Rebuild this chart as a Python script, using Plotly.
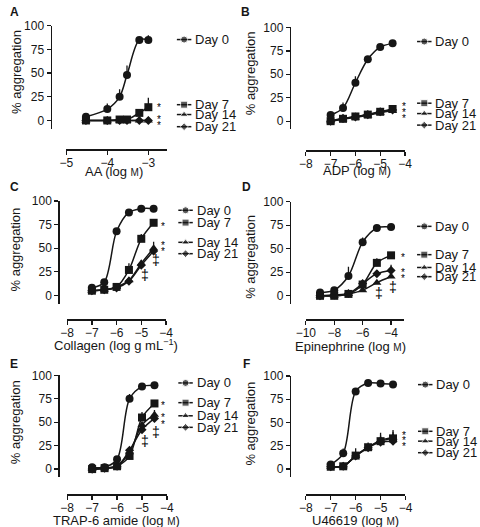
import plotly.graph_objects as go

# ------------------------------------------------------------------ data
DAYS = ["Day 0", "Day 7", "Day 14", "Day 21"]

# A  arachidonic acid
A_x = [-4.52, -4.0, -3.7, -3.52, -3.22, -3.0]
A_d0 = [4, 12, 25, 48, 85, 85]
A_d7 = [0, 0, 1, 1, 8, 14]
A_d14 = [0, 0, 0, 0, 0, 0]
A_d21 = [0, 0, 0, 0, 0, 0]
A_e0 = [2, 6, 8, 10, 2, 5]
A_e7 = [1, 0, 0, 0, 3, 10]
A_e14 = [0, 0, 0, 0, 0, 0]
A_e21 = [0, 0, 0, 0, 0, 0]

# B  ADP
B_x = [-7, -6.5, -6, -5.5, -5, -4.5]
B_d0 = [6.5, 14, 41, 66, 79, 83]
B_d7 = [0, 2.5, 5, 7, 10, 13]
B_d14 = [0, 2, 4, 6, 9, 11]
B_d21 = [0, 3, 4.5, 7, 10, 12]
B_e0 = [2, 6, 7, 2, 2, 1]
B_e7 = [1, 1, 1, 1, 1, 1]
B_e14 = [1, 1, 1, 1, 1, 1]
B_e21 = [1, 1, 1, 1, 1, 1]

# C  collagen
C_x = [-7, -6.5, -6, -5.5, -5, -4.5]
C_d0 = [8, 14, 68, 88, 92, 92]
C_d7 = [5, 6, 9, 27, 60, 77]
C_d14 = [5, 6, 9, 16, 34, 50]
C_d21 = [5, 6, 8, 15, 32, 47]
C_e0 = [1, 1, 2, 2, 1, 1]
C_e7 = [1, 1, 1, 7, 5, 2]
C_e14 = [1, 1, 1, 2, 3, 7]
C_e21 = [1, 1, 1, 2, 2, 3]

# D  epinephrine
D_x = [-9, -8, -7, -6, -5, -4]
D_d0 = [3.5, 6, 21, 57, 72, 73]
D_d7 = [0, 0, 2, 12, 35, 43]
D_d14 = [0, 0, 2, 6, 14, 20.5]
D_d21 = [0, 1, 2.5, 13, 23.5, 27]
D_e0 = [1, 3, 10, 5, 2, 2]
D_e7 = [0, 0, 1, 3, 5, 3]
D_e14 = [0, 0, 1, 1, 2, 3]
D_e21 = [0, 0, 1, 2, 4, 6]

# E  TRAP-6 amide
E_x = [-7, -6.5, -6, -5.5, -5, -4.5]
E_d0 = [2, 2, 10.5, 75, 88, 89.5]
E_d7 = [0, 1, 3, 14, 55, 70]
E_d14 = [0, 1, 3, 18, 47, 58]
E_d21 = [0, 1, 3, 20, 42, 54]
E_e0 = [1, 1, 2, 5, 1, 1]
E_e7 = [0, 0, 1, 2, 6, 2]
E_e14 = [0, 0, 1, 2, 3, 5]
E_e21 = [0, 0, 1, 2, 2, 3]

# F  U46619
F_x = [-7, -6.5, -6, -5.5, -5, -4.5]
F_d0 = [5, 17, 83.5, 92.5, 92, 91]
F_d7 = [2.5, 3, 14.5, 23.5, 30, 33]
F_d14 = [2.5, 3, 14, 23, 31, 34]
F_d21 = [2.5, 3, 14, 23, 29, 30]
F_e0 = [2, 5, 2, 1, 1, 1]
F_e7 = [1, 1, 8, 5, 9, 9]
F_e14 = [1, 1, 3, 3, 5, 6]
F_e21 = [1, 1, 3, 3, 4, 5]

A_ticks = [-5, -4, -3]
B_ticks = [-8, -7, -6, -5, -4]
C_ticks = [-8, -7, -6, -5, -4]
D_ticks = [-10, -8, -6, -4]
E_ticks = [-8, -7, -6, -5, -4]
F_ticks = [-8, -7, -6, -5, -4]
Y_ticks = [0, 25, 50, 75, 100]

SM = "<span style='font-size:10px'>M</span>"
A_title = "AA (log " + SM + ")"
B_title = "ADP (log " + SM + ")"
C_title = "Collagen (log g mL<sup>\u22121</sup>)"
D_title = "Epinephrine (log " + SM + ")"
E_title = "TRAP-6 amide (log " + SM + ")"
F_title = "U46619 (log " + SM + ")"

A_marks = [(-2.74, 16.7, "*"), (-2.74, 4.5, "*"), (-2.74, -2.4, "*")]
B_marks = [(-4.05, 18.6, "*"), (-4.05, 12.3, "*"), (-4.05, 6.3, "*")]
C_marks = [(-4.13, 76.7, "*"), (-4.13, 56.5, "*"), (-4.13, 49.5, "*"),
           (-4.39, 37.2, "\u2021"), (-4.84, 21.5, "\u2021")]
D_marks = [(-3.17, 43.6, "*"), (-3.17, 28.2, "*"), (-3.17, 22.0, "*"),
           (-4.82, 2.8, "\u2021"), (-3.87, 9.0, "\u2021")]
E_marks = [(-4.17, 70.8, "*"), (-4.17, 58.5, "*"), (-4.17, 50.5, "*"),
           (-4.42, 40.0, "\u2021"), (-4.88, 29.8, "\u2021")]
F_marks = [(-4.07, 39.0, "*"), (-4.07, 34.0, "*"), (-4.07, 27.0, "*")]

# ------------------------------------------------------------------ layout geometry (pixels)
W, H = 480, 527
YMIN = -8.6
FONT = "Liberation Sans, Arial, Helvetica, sans-serif"
INK = "#161616"

panels = [
    dict(letter="A", x=A_x, ys=[A_d0, A_d7, A_d14, A_d21], es=[A_e0, A_e7, A_e14, A_e21],
         ticks=A_ticks, xr=[-5, -2.54], title=A_title, marks=A_marks,
         yax_x=42, top=19, zero=115, xax_y=144, xl=58.3, xrp=163,
         lx=173, ly=[33, 99, 109, 121.3], letpos=(5, 5),
         ytitle=(6, 66), xtitle=(108, 167)),
    dict(letter="B", x=B_x, ys=[B_d0, B_d7, B_d14, B_d21], es=[B_e0, B_e7, B_e14, B_e21],
         ticks=B_ticks, xr=[-8, -4], title=B_title, marks=B_marks,
         yax_x=290, top=20.7, zero=115.7, xax_y=145, xl=306.7, xrp=409.5,
         lx=422, ly=[35, 97.5, 108, 119.7], letpos=(244, 5),
         ytitle=(249, 67), xtitle=(360, 166)),
    dict(letter="C", x=C_x, ys=[C_d0, C_d7, C_d14, C_d21], es=[C_e0, C_e7, C_e14, C_e21],
         ticks=C_ticks, xr=[-8, -4], title=C_title, marks=C_marks,
         yax_x=50, top=196.7, zero=292.3, xax_y=316.7, xl=59.3, xrp=161.7,
         lx=174.5, ly=[206, 218.5, 238.5, 250], letpos=(5, 182),
         ytitle=(6, 246), xtitle=(110, 343)),
    dict(letter="D", x=D_x, ys=[D_d0, D_d7, D_d14, D_d21], es=[D_e0, D_e7, D_e14, D_e21],
         ticks=D_ticks, xr=[-10, -3.1], title=D_title, marks=D_marks,
         yax_x=290, top=197.3, zero=292.7, xax_y=316.7, xl=306.7, xrp=408.3,
         lx=422, ly=[222.3, 251, 264, 273.3], letpos=(245, 182),
         ytitle=(249, 253), xtitle=(353, 344)),
    dict(letter="E", x=E_x, ys=[E_d0, E_d7, E_d14, E_d21], es=[E_e0, E_e7, E_e14, E_e21],
         ticks=E_ticks, xr=[-8, -4], title=E_title, marks=E_marks,
         yax_x=50, top=373.3, zero=468.3, xax_y=494, xl=59.3, xrp=162.7,
         lx=174.5, ly=[381, 401, 414.3, 426], letpos=(4, 362),
         ytitle=(6, 421), xtitle=(110, 520.5)),
    dict(letter="F", x=F_x, ys=[F_d0, F_d7, F_d14, F_d21], es=[F_e0, F_e7, F_e14, F_e21],
         ticks=F_ticks, xr=[-8, -4], title=F_title, marks=F_marks,
         yax_x=290, top=374, zero=468.3, xax_y=494, xl=306.7, xrp=410,
         lx=423, ly=[382.7, 430, 440, 451.7], letpos=(245, 362),
         ytitle=(249, 422), xtitle=(358, 520.5)),
]

SYMBOLS = ["circle", "square", "triangle-up", "diamond"]
MSIZE = [8, 8, 8, 7]
LSIZE = [7, 7, 7, 6]


def fx(px):
    return px / W


def fy(py):
    return 1 - py / H


fig = go.Figure()
layout = dict(
    width=W, height=H, autosize=False,
    margin=dict(l=0, r=0, t=0, b=0, pad=0),
    paper_bgcolor="white", plot_bgcolor="rgba(0,0,0,0)",
    showlegend=False, font=dict(family=FONT, size=12, color=INK),
)
annotations = []

for i, p in enumerate(panels, start=1):
    xa, ya = f"x{i}", f"y{i}"
    scale = (p["zero"] - p["top"]) / 100.0
    bottom = p["zero"] - YMIN * scale
    layout[f"xaxis{i}"] = dict(
        domain=[fx(p["xl"]), fx(p["xrp"])], range=p["xr"], anchor="free",
        position=fy(p["xax_y"]), tickmode="array", tickvals=p["ticks"],
        ticks="outside", ticklen=4, tickwidth=1.3, tickcolor=INK, ticklabelstandoff=-2,
        showline=True, linewidth=1.5, linecolor=INK, showgrid=False, zeroline=False,
        tickfont=dict(size=12, family=FONT, color=INK), fixedrange=True,
    )
    layout[f"yaxis{i}"] = dict(
        domain=[fy(bottom), fy(p["top"])], range=[YMIN, 100], anchor="free",
        position=fx(p["yax_x"]), tickmode="array", tickvals=Y_ticks,
        ticks="outside", ticklen=4, tickwidth=1.3, tickcolor=INK,
        showline=True, linewidth=1.5, linecolor=INK, showgrid=False, zeroline=False,
        tickfont=dict(size=12, family=FONT, color=INK), fixedrange=True,
    )
    for k in [3, 2, 1, 0]:
        fig.add_trace(go.Scatter(
            x=p["x"], y=p["ys"][k], xaxis=xa, yaxis=ya,
            mode="lines+markers", line=dict(color=INK, width=1.5, shape="spline", smoothing=0.9),
            marker=dict(symbol=SYMBOLS[k], size=MSIZE[k], color=INK),
            error_y=dict(type="data", symmetric=False, array=p["es"][k],
                         arrayminus=[0] * len(p["es"][k]), width=0, thickness=1.3, color=INK),
            cliponaxis=False, hoverinfo="skip", name=DAYS[k],
        ))
    for (mx, my, s) in p["marks"]:
        star = s == "*"
        annotations.append(dict(
            x=mx, y=my, xref=xa, yref=ya, text=s, showarrow=False,
            font=dict(size=10 if star else 14, family=FONT, color="#000000"),
            xanchor="center", yanchor="middle", yshift=-3 if star else 0,
        ))
    annotations.append(dict(
        x=fx(p["letpos"][0]), y=fy(p["letpos"][1]), xref="paper", yref="paper",
        text="<b>" + p["letter"] + "</b>", showarrow=False,
        font=dict(size=12, family=FONT, color=INK), xanchor="center", yanchor="middle",
    ))
    annotations.append(dict(
        x=fx(p["ytitle"][0]), y=fy(p["ytitle"][1]), xref="paper", yref="paper",
        text="% aggregation", textangle=-90, showarrow=False,
        font=dict(size=13, family=FONT, color=INK), xanchor="center", yanchor="middle",
    ))
    annotations.append(dict(
        x=fx(p["xtitle"][0]), y=fy(p["xtitle"][1]), xref="paper", yref="paper",
        text=p["title"], showarrow=False,
        font=dict(size=13, family=FONT, color=INK), xanchor="center", yanchor="middle",
    ))

# per-panel legends, drawn in a pixel-space overlay axis
layout["xaxis7"] = dict(domain=[0, 1], range=[0, W], visible=False, anchor="y7", fixedrange=True)
layout["yaxis7"] = dict(domain=[0, 1], range=[H, 0], visible=False, anchor="x7", fixedrange=True)
GL = 15
for p in panels:
    for k in range(4):
        y = p["ly"][k]
        fig.add_trace(go.Scatter(
            x=[p["lx"], p["lx"] + GL / 2, p["lx"] + GL], y=[y, y, y], xaxis="x7", yaxis="y7",
            mode="lines+markers", line=dict(color=INK, width=1.5),
            marker=dict(symbol=SYMBOLS[k], size=[0, LSIZE[k], 0], color=INK),
            cliponaxis=False, hoverinfo="skip", showlegend=False,
        ))
        annotations.append(dict(
            x=fx(p["lx"] + GL + 2), y=fy(y), xref="paper", yref="paper",
            text=DAYS[k], showarrow=False, xanchor="left", yanchor="middle",
            font=dict(size=13, family=FONT, color=INK),
        ))

layout["annotations"] = annotations
fig.update_layout(**layout)
fig.write_html(
    "out.html", config={"displayModeBar": False, "staticPlot": True},
    post_script=("document.body.style.margin='0';document.body.style.overflow='hidden';"
                 "document.querySelectorAll('.main-svg').forEach(function(s){s.style.opacity='0.999';});"),
)
